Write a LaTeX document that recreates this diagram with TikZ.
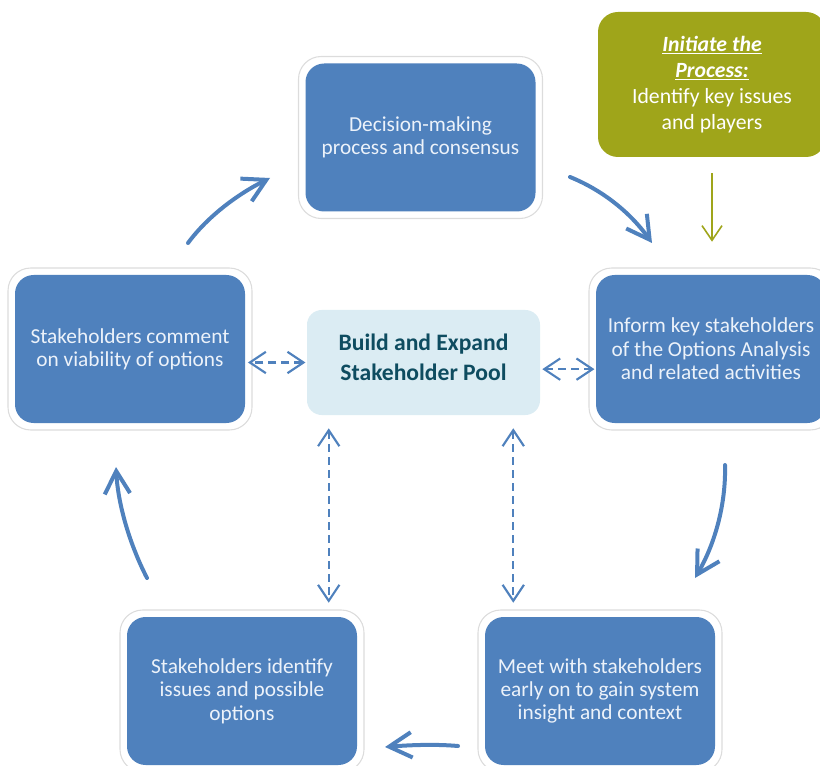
\documentclass[tikz,border=0pt]{standalone}
\usepackage{fontspec}
\setmainfont{Carlito}
\usetikzlibrary{arrows.meta,calc}
\definecolor{boxblue}{RGB}{79,129,189}
\definecolor{paleblue}{RGB}{219,236,243}
\definecolor{pooltext}{RGB}{14,76,96}
\definecolor{initgreen}{RGB}{159,165,26}
\definecolor{boxtext}{RGB}{236,242,250}
\definecolor{framegray}{RGB}{220,220,220}
\begin{document}
\begin{tikzpicture}[x=0.75pt,y=-0.75pt,
  framebox/.style={draw=framegray, line width=0.8pt, fill=white, rounded corners=17pt,
    minimum width=183pt, minimum height=121.5pt, inner sep=0pt},
  stepbox/.style={fill=boxblue, rounded corners=14pt, text=boxtext, align=center,
    inner sep=0pt, minimum width=172.5pt, minimum height=111pt,
    font=\fontsize{16pt}{17.5pt}\selectfont},
  poolbox/.style={fill=paleblue, rounded corners=11pt, text=pooltext, align=center,
    inner sep=0pt, minimum width=174.75pt, minimum height=78.75pt, text depth=7.5pt,
    font=\fontsize{17.7pt}{22.5pt}\selectfont\bfseries},
  initbox/.style={fill=initgreen, rounded corners=15pt, text=white, align=center,
    inner sep=0pt, minimum width=171pt, minimum height=108.75pt,
    font=\fontsize{16.3pt}{19.5pt}\selectfont},
  dasharrow/.style={draw=boxblue, line width=1.6pt, dash pattern=on 6pt off 3.75pt,
    {Straight Barb[length=12pt,width=16pt]}-{Straight Barb[length=12pt,width=16pt]}},
  curvearrow/.style={draw=boxblue, line width=3pt, line cap=round,
    -{Straight Barb[length=17pt,width=19pt]}},
  greenarrow/.style={draw=initgreen, line width=1.2pt,
    -{Straight Barb[length=11pt,width=15pt]}}
]
\useasboundingbox (0,0) rectangle (820,766);
\clip (0,0) rectangle (820,766);

% boxes
\node[framebox] (decF) at (420.5,137.5) {};
\node[stepbox] (dec) at (420.5,137.5) {Decision-making\\process and consensus};

\node[framebox] (viabF) at (130,349) {};
\node[stepbox] (viab) at (130,349) {Stakeholders comment\\on viability of options};

\node[framebox] (informF) at (711,349) {};
\node[stepbox] (inform) at (711,349) {Inform key stakeholders\\of the Options Analysis\\and related activities};

\node[framebox] (identF) at (242,691) {};
\node[stepbox] (ident) at (242,691) {Stakeholders identify\\issues and possible\\options};

\node[framebox] (meetF) at (600,691) {};
\node[stepbox] (meet) at (600,691) {Meet with stakeholders\\early on to gain system\\insight and context};

\node[poolbox] (pool) at (423.5,362.5) {Build and Expand\\Stakeholder Pool};

\node[initbox] (init) at (712,84.5) {\underline{\textbf{\textit{Initiate the}}}\\\underline{\textbf{\textit{Process:}}}\\Identify key issues\\and players};

% green arrow
\draw[greenarrow, shorten <=12pt, shorten >=24.75pt] (init.south) -- (init.south |- inform.north);

% dashed two-way connectors
\draw[dasharrow, shorten <=1pt, shorten >=2pt] (pool.west) -- (pool.west -| viab.east);
\draw[dasharrow, shorten <=1.5pt, shorten >=1pt] ([yshift=-5pt]pool.east) -- ([yshift=-5pt]pool.east -| inform.west);
\coordinate (v1) at ($(pool.south west)+(22,0)$);
\coordinate (v2) at ($(pool.south east)+(-27,0)$);
\draw[dasharrow, shorten <=9.75pt, shorten >=10.5pt] (v1) -- (v1 |- ident.north);
\draw[dasharrow, shorten <=9.75pt, shorten >=10.5pt] (v2) -- (v2 |- meet.north);

% cycle arrows
\coordinate (a1s) at (188,243); \coordinate (a1e) at (270,178);
\coordinate (a2s) at (570,177); \coordinate (a2e) at (652,243);
\coordinate (a3s) at (725,465); \coordinate (a3e) at (695,578);
\coordinate (a4s) at (458,746); \coordinate (a4e) at (385,747);
\coordinate (a5s) at (147,578); \coordinate (a5e) at (116,467);
\draw[curvearrow] (a1s) .. controls (208,216) and (238,194) .. (a1e);
\draw[curvearrow] (a2s) .. controls (602,190) and (630,212) .. (a2e);
\draw[curvearrow] (a3s) .. controls (726,502) and (716,542) .. (a3e);
\draw[curvearrow] (a4s) .. controls (435,744) and (410,745) .. (a4e);
\draw[curvearrow] (a5s) .. controls (130,545) and (118,505) .. (a5e);
\end{tikzpicture}
\end{document}
